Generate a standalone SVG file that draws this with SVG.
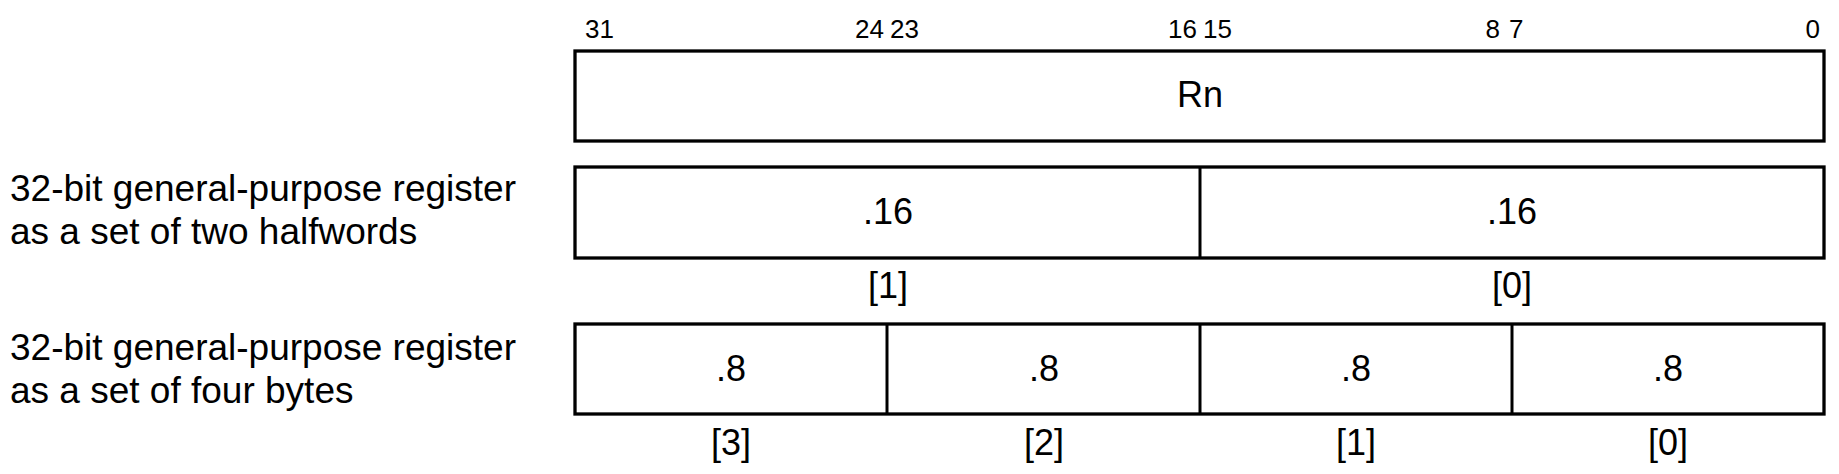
<svg xmlns="http://www.w3.org/2000/svg" width="1839" height="474" viewBox="0 0 1839 474">
<style>
  .box{fill:#fff;stroke:#000;stroke-width:3.3}
  .div{stroke:#000;stroke-width:3}
  text{font-family:"Liberation Sans",Arial,sans-serif;fill:#000}
  .bit{font-size:26px}
  .lbl{font-size:36px;text-anchor:middle}
  .side{font-size:37px}
</style>
<rect width="1839" height="474" fill="#fff"/>
<g id="bit-numbers">
  <text class="bit" x="585" y="38">31</text>
  <text class="bit" x="884" y="38" text-anchor="end">24</text>
  <text class="bit" x="890" y="38">23</text>
  <text class="bit" x="1197" y="38" text-anchor="end">16</text>
  <text class="bit" x="1203" y="38">15</text>
  <text class="bit" x="1500" y="38" text-anchor="end">8</text>
  <text class="bit" x="1509" y="38">7</text>
  <text class="bit" x="1820" y="38" text-anchor="end">0</text>
</g>
<g id="rn">
  <rect class="box" x="575" y="51" width="1249" height="90"/>
  <text class="lbl" x="1200" y="107">Rn</text>
</g>
<g id="halfwords-label">
  <text class="side" x="10" y="201">32-bit general-purpose register</text>
  <text class="side" x="10" y="244">as a set of two halfwords</text>
</g>
<g id="halfwords">
  <rect class="box" x="575" y="167" width="1249" height="91"/>
  <line class="div" x1="1200" y1="167" x2="1200" y2="258"/>
  <text class="lbl" x="888" y="224">.16</text>
  <text class="lbl" x="1512" y="224">.16</text>
  <text class="lbl" x="888" y="298">[1]</text>
  <text class="lbl" x="1512" y="298">[0]</text>
</g>
<g id="bytes-label">
  <text class="side" x="10" y="360">32-bit general-purpose register</text>
  <text class="side" x="10" y="403">as a set of four bytes</text>
</g>
<g id="bytes">
  <rect class="box" x="575" y="324" width="1249" height="90"/>
  <line class="div" x1="887" y1="324" x2="887" y2="414"/>
  <line class="div" x1="1200" y1="324" x2="1200" y2="414"/>
  <line class="div" x1="1512" y1="324" x2="1512" y2="414"/>
  <text class="lbl" x="731" y="381">.8</text>
  <text class="lbl" x="1044" y="381">.8</text>
  <text class="lbl" x="1356" y="381">.8</text>
  <text class="lbl" x="1668" y="381">.8</text>
  <text class="lbl" x="731" y="455">[3]</text>
  <text class="lbl" x="1044" y="455">[2]</text>
  <text class="lbl" x="1356" y="455">[1]</text>
  <text class="lbl" x="1668" y="455">[0]</text>
</g>
<g id="connectors"></g>
</svg>
